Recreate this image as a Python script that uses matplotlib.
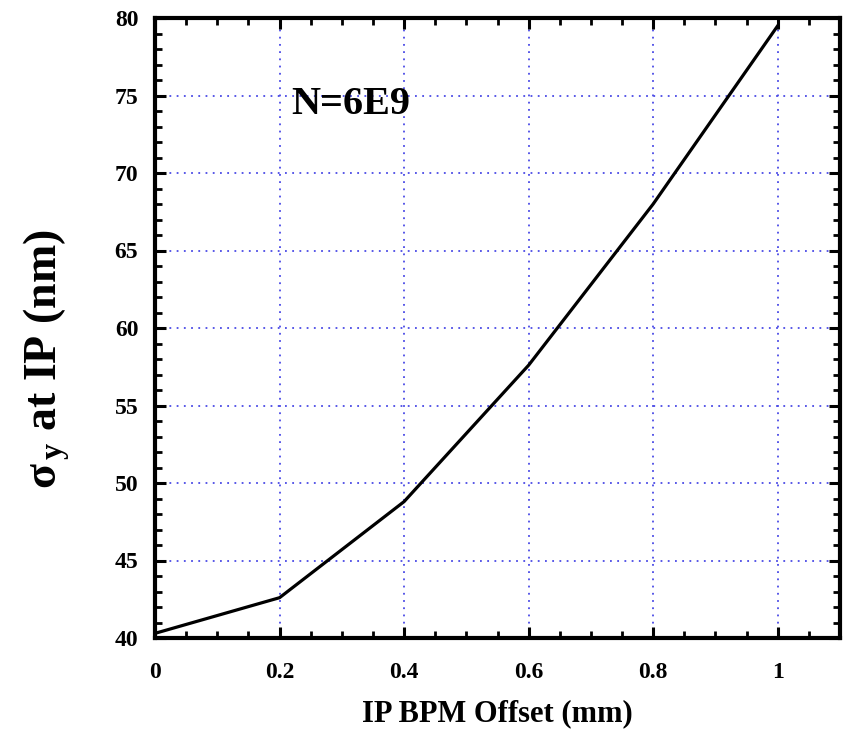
import matplotlib
matplotlib.use('Agg')
from matplotlib import pyplot as plt
from matplotlib.ticker import MultipleLocator

# data
offset = [0.0, 0.2, 0.4, 0.6, 0.8, 1.0]
sigma_y = [40.3, 42.6, 48.8, 57.6, 68.0, 79.5]
x_ticks = [0, 0.2, 0.4, 0.6, 0.8, 1]
x_tick_labels = ['0', '0.2', '0.4', '0.6', '0.8', '1']
y_ticks = [40, 45, 50, 55, 60, 65, 70, 75, 80]

plt.rcParams['font.family'] = ['Liberation Serif', 'DejaVu Serif']
plt.rcParams['font.weight'] = 'bold'
plt.rcParams['mathtext.fontset'] = 'custom'
plt.rcParams['mathtext.rm'] = 'Liberation Serif:bold'
plt.rcParams['mathtext.it'] = 'Liberation Serif:bold'
plt.rcParams['mathtext.bf'] = 'Liberation Serif:bold'
plt.rcParams['mathtext.default'] = 'bf'

fig = plt.figure(figsize=(8.46, 7.36), dpi=100)
ax = fig.add_axes([155 / 846, 1 - 638 / 736, 685 / 846, 620 / 736])

ax.plot(offset, sigma_y, color='black', linewidth=2.3, zorder=3)

ax.set_xlim(0, 1.1)
ax.set_ylim(40, 80)
ax.set_xticks(x_ticks)
ax.set_xticklabels(x_tick_labels)
ax.set_yticks(y_ticks)
ax.xaxis.set_minor_locator(MultipleLocator(0.05))
ax.yaxis.set_minor_locator(MultipleLocator(1))

ax.grid(True, which='major', color='#4a4ae6', linestyle=(0, (1, 3)), linewidth=1.3)

for s in ax.spines.values():
    s.set_linewidth(3)

ax.tick_params(axis='both', which='both', direction='in', top=True, right=True)
ax.tick_params(axis='both', which='major', length=8, width=2.2, labelsize=17)
ax.tick_params(axis='both', which='minor', length=5, width=2.0)
ax.tick_params(axis='x', which='major', pad=17)
ax.tick_params(axis='y', which='major', pad=12)

ax.set_xlabel("IP BPM Offset (mm)", fontsize=22, fontweight='bold', labelpad=12)
ax.set_ylabel(r"$\sigma_{\,y}$ at IP (nm)", fontsize=33, fontweight='bold')
ax.yaxis.set_label_coords(-0.121, 0.45)

ax.text(0.219, 73.8, "N=6E9", fontsize=29, fontweight='bold')

plt.savefig('out.png', dpi=100)
